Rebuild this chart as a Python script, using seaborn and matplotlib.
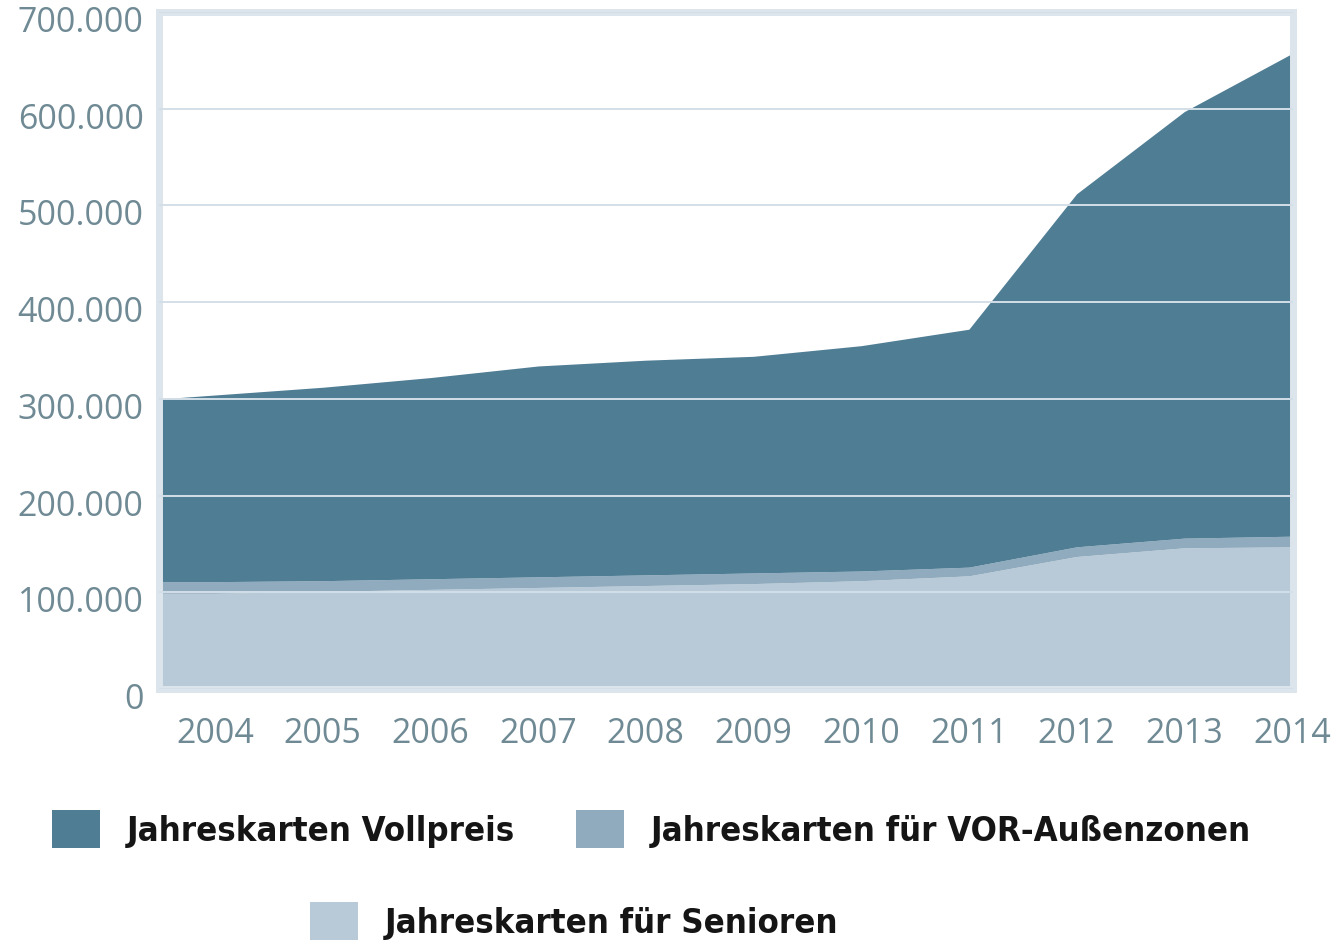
import matplotlib
matplotlib.use("Agg")
import matplotlib.pyplot as plt
import matplotlib.transforms as mtransforms
from matplotlib.patches import Patch
from matplotlib import font_manager
from matplotlib.font_manager import FontProperties
import seaborn as sns
import pandas as pd

# values in thousands (2003 is only partly visible at the left edge)
years = [2003, 2004, 2005, 2006, 2007, 2008, 2009, 2010, 2011, 2012, 2013, 2014]
total = [296, 304, 312, 322, 334, 340, 344, 355, 372, 512, 597, 657]
vor_top = [111, 111, 112, 114, 116, 118, 120, 122, 126, 147, 156, 158]
senioren = [99, 99, 101, 103, 105, 107, 109, 112, 117, 137, 146, 147]
tick_years = list(range(2004, 2015))
labels = ["Jahreskarten Vollpreis", "Jahreskarten für VOR-Außenzonen", "Jahreskarten für Senioren"]

df = pd.DataFrame({"jahr": years, "total": total, "vor_top": vor_top, "senioren": senioren})
df["vollpreis"] = (df["total"] - df["vor_top"]) * 1000
df["vor"] = (df["vor_top"] - df["senioren"]) * 1000
df["sen"] = df["senioren"] * 1000

c_voll = "#4f7d94"
c_vor = "#90abbe"
c_sen = "#b8cad8"

sns.set_theme(style="white")
plt.rcParams["font.family"] = ["Open Sans", "DejaVu Sans"]

# pick a narrow bold face for the legend if one is installed
narrow = [f for f in font_manager.fontManager.ttflist
          if ("Narrow" in f.name or "Condensed" in f.name or "ondensed" in str(f.stretch))]
narrow_bold = [f for f in narrow if str(f.weight) in ("bold", "700", "heavy", "black", "800", "900")]
if narrow_bold:
    leg_prop = FontProperties(fname=narrow_bold[0].fname)
elif narrow:
    leg_prop = FontProperties(fname=narrow[0].fname, weight="bold")
else:
    leg_prop = FontProperties(family="DejaVu Sans", weight="bold")

fig = plt.figure(figsize=(13.41, 9.44), dpi=100)
ax = fig.add_axes([159 / 1341, 1 - 689 / 944, (1293 - 159) / 1341, (689 - 12) / 944])

ax.stackplot(df["jahr"], df["sen"], df["vor"], df["vollpreis"],
             colors=[c_sen, c_vor, c_voll], zorder=1, linewidth=0)

ax.set_xlim(2003.48, 2014.01)
ax.set_ylim(0, 700000)
ax.set_yticks(range(0, 700001, 100000))
ax.set_yticklabels(["0"] + [f"{v}.000" for v in range(100, 701, 100)])
ax.set_xticks(tick_years)
ax.set_xticklabels([str(y) for y in tick_years])

ax.set_axisbelow(False)
ax.yaxis.grid(True, color="#d3dfe8", linewidth=1.4)
ax.xaxis.grid(False)
for s in ax.spines.values():
    s.set_color("#dde5ec")
    s.set_linewidth(5)

ax.tick_params(axis="both", length=0, labelsize=24.5, labelcolor="#6f8a94")
ax.tick_params(axis="y", pad=11)
ax.tick_params(axis="x", pad=20)
offset = mtransforms.ScaledTranslation(0, -7 / 100, fig.dpi_scale_trans)
for lab in ax.get_yticklabels():
    lab.set_transform(lab.get_transform() + offset)

# size the legend font so the longest label is about as wide as in the original (~600 px)
renderer = fig.canvas.get_renderer()
probe = fig.text(0, 0, labels[1], fontproperties=leg_prop, fontsize=20)
w20 = probe.get_window_extent(renderer).width
probe.remove()
fs = min(36, 20 * 600 / w20)
leg_prop.set_size(fs)

# legend: three single entries placed like the original
spots = [(52, 829), (576, 829), (310, 921)]
cols = [c_voll, c_vor, c_sen]
for (px, py), col, lab in zip(spots, cols, labels):
    fig.legend(handles=[Patch(facecolor=col, edgecolor="none")], labels=[lab],
               loc="center left", bbox_to_anchor=(px / 1341, 1 - py / 944),
               frameon=False, borderpad=0, borderaxespad=0,
               handlelength=48 / (fs * 100 / 72), handleheight=46 / (fs * 100 / 72),
               handletextpad=27 / (fs * 100 / 72),
               prop=leg_prop, labelcolor="#151515")

fig.savefig("out.png", dpi=100, facecolor="white")
